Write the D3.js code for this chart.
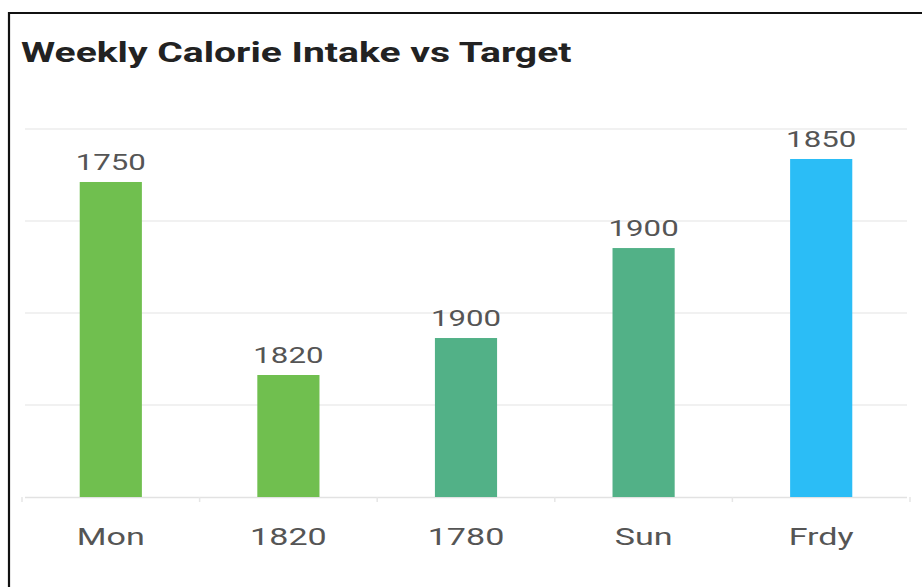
<!DOCTYPE html>
<html>
<head>
<meta charset="utf-8">
<script src="https://cdn.jsdelivr.net/npm/d3@7"></script>
<style>
  html, body { margin: 0; padding: 0; background: #fff; }
  svg { display: block; }
</style>
</head>
<body>
<div id="chart"></div>
<script>
// ---- data ----
const title = "Weekly Calorie Intake vs Target";
const categories = ["Mon", "1820", "1780", "Sun", "Frdy"];
const barValues = [1712, 663, 864, 1353, 1837];          // bar heights as drawn
const valueLabels = ["1750", "1820", "1900", "1900", "1850"]; // labels printed above bars
const barColors = ["#70bf4f", "#70bf4f", "#52b187", "#52b187", "#2bbdf6"];
const gridTicks = [0, 500, 1000, 1500, 2000];

// ---- layout ----
const W = 922, H = 587;
const sx = 1.42; // horizontal stretch of glyphs as in the reference

const svg = d3.select("#chart").append("svg")
  .attr("width", W).attr("height", H);

svg.append("rect").attr("width", W).attr("height", H).attr("fill", "#fff");

// frame (top + left)
svg.append("path")
  .attr("d", `M9,${H} V13 H${W}`)
  .attr("fill", "none").attr("stroke", "#111").attr("stroke-width", 2.2);

// title
svg.append("text")
  .attr("transform", `translate(21,62) scale(${sx},1)`)
  .attr("font-family", "Roboto, 'Open Sans', sans-serif")
  .attr("font-weight", 700)
  .attr("font-size", 27.5)
  .attr("fill", "#222")
  .text(title);

const x = d3.scaleBand().domain(categories).range([22, 910]).paddingInner(0.65).paddingOuter(0.325);
const y = d3.scaleLinear().domain([0, 2000]).range([497, 129]);

// gridlines
svg.append("g").selectAll("line").data(gridTicks.slice(1)).join("line")
  .attr("x1", 25).attr("x2", 907)
  .attr("y1", d => y(d)).attr("y2", d => y(d))
  .attr("stroke", "#ececec").attr("stroke-width", 1.5);

// x axis baseline + ticks
const xAxis = d3.axisBottom(x).tickSize(0).tickFormat("");
const gx = svg.append("g").attr("transform", `translate(0,${y(0)})`).call(xAxis);
gx.select(".domain").attr("stroke", "#e2e2e2").attr("stroke-width", 1.5)
  .attr("d", `M25,0.5H907`);
// faint boundary ticks between categories
const step = x.step();
const bounds = d3.range(categories.length + 1).map(i => x(categories[0]) - x.paddingOuter() * step + i * step - x.paddingInner()*0 );
svg.append("g").selectAll("line").data(bounds).join("line")
  .attr("x1", d => d).attr("x2", d => d)
  .attr("y1", y(0)).attr("y2", y(0) + 5)
  .attr("stroke", "#e6e6e6").attr("stroke-width", 1.5);

// bars
svg.append("g").selectAll("rect").data(barValues).join("rect")
  .attr("x", (d, i) => x(categories[i]))
  .attr("width", x.bandwidth())
  .attr("y", d => y(d))
  .attr("height", d => y(0) - y(d))
  .attr("fill", (d, i) => barColors[i]);

// value labels
svg.append("g").selectAll("text").data(barValues).join("text")
  .attr("transform", (d, i) => `translate(${x(categories[i]) + x.bandwidth() / 2},${y(d) - 12}) scale(${sx},1)`)
  .attr("text-anchor", "middle")
  .attr("font-family", "Roboto, 'Open Sans', sans-serif")
  .attr("font-size", 22)
  .attr("fill", "#555")
  .text((d, i) => valueLabels[i]);

// category labels
svg.append("g").selectAll("text").data(categories).join("text")
  .attr("transform", d => `translate(${x(d) + x.bandwidth() / 2},545) scale(${sx},1)`)
  .attr("text-anchor", "middle")
  .attr("font-family", "Roboto, 'Open Sans', sans-serif")
  .attr("font-size", 24)
  .attr("fill", "#555")
  .text(d => d);
</script>
</body>
</html>
